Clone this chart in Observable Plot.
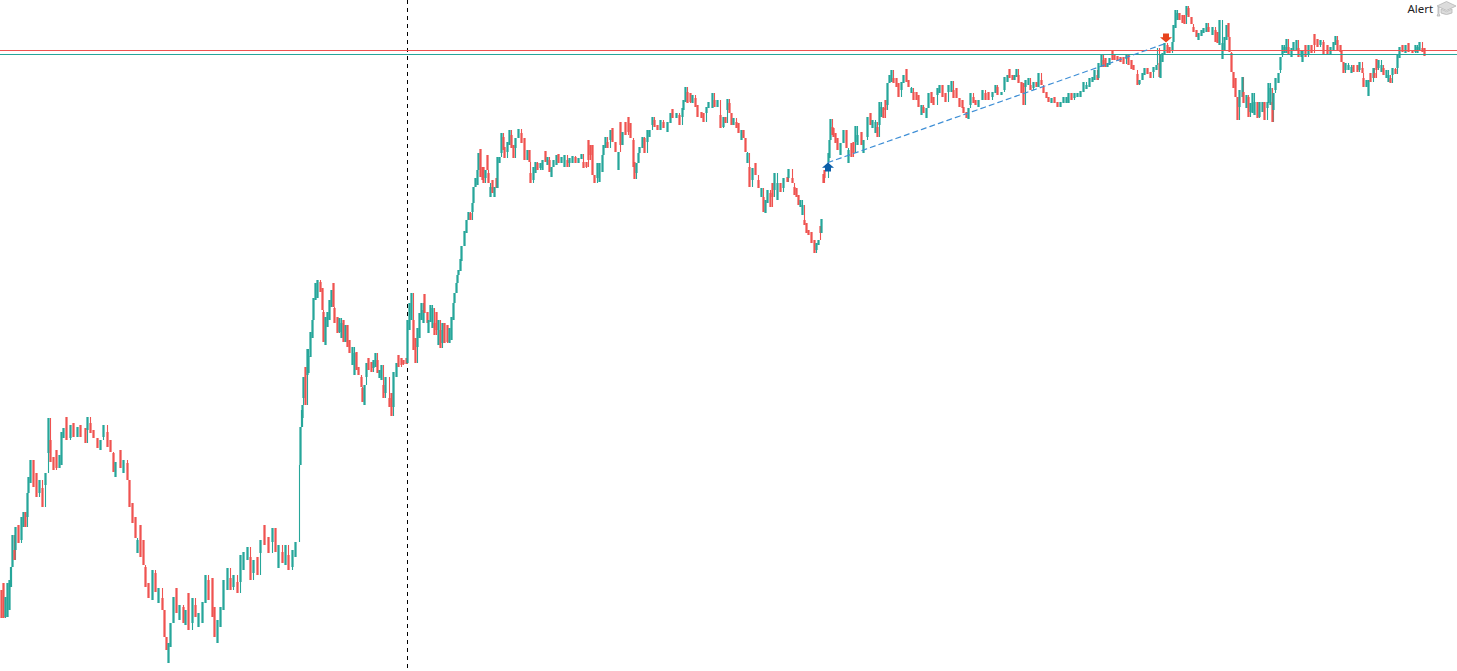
<!DOCTYPE html>
<html><head><meta charset="utf-8">
<script src="https://cdn.jsdelivr.net/npm/d3@7"></script>
<script src="https://cdn.jsdelivr.net/npm/@observablehq/plot@0.6"></script>
<style>html,body{margin:0;padding:0;background:#fff;overflow:hidden}svg{display:block}</style>
</head><body><div id="chart"></div>
<script>
// Each bar: [bar number, open, close]; open < close rises (teal), open > close falls (red).
const barsA = [[1,81,53],[3,88,53],[5,54,74],[7,54,88],[9,61,91],[10.5,84,104],[12,104,136],[14,121,111],[15,121,144],[18,146,128],[21,131,154],[23,144,159],[25,159,144],[27,154,178],[28,178,194],[30,188,211],[33,211,184],[36,198,174],[39,178,191],[42,183,164],[45,186,198],[48,218,253],[50,231,209],[53,214,201],[56,221,203],[59,203,216],[61,206,239],[63,233,243],[66,254,231],[70,233,246],[73,248,234],[77,234,244],[80,246,234],[85,243,228],[87,241,254],[90,248,238],[93,241,233],[97,233,223],[100,221,231],[103,234,246],[107,239,224],[110,231,219],[113,218,199],[115,194,209],[120,221,203],[123,198,211],[127,208,191],[129,191,164],[132,168,148],[135,154,133],[137,118,131],[140,146,114],[143,131,106],[145,104,84],[148,88,73],[152,71,101],[155,98,79],[158,68,83],[162,73,61],[164,61,34],[166,34,21],[168,8,28],[170,24,48],[173,48,74],[176,83,58],[179,51,66],[183,64,48],[185,46,61],[188,78,41],[192,48,73],[195,66,54],[198,44,58],[202,48,69],[205,68,96],[208,91,71],[212,93,54],[214,64,34],[217,28,51],[220,44,64],[223,61,91],[227,81,103],[230,93,81],[233,84,96],[237,89,78],[240,89,116],[243,101,119],[247,111,124],[250,114,91],[253,98,111],[257,114,96],[260,118,131],[264,146,126],[268,134,118],[272,129,143],[275,143,119],[278,103,126],[282,119,108],[285,106,126],[288,116,101],[292,104,121],[295,114,129]];
const barsB = [[299,206,206],[300,206,244],[301.5,244,261],[302,253,266],[303,273,294],[305,304,266],[307,296,322],[308,298,315],[310,314,339],[312,333,351],[313,351,373],[315,371,388],[317,373,391],[320,389,379],[322,383,361],[323,359,329],[325,326,354],[327,344,359],[329,351,371],[331,364,381],[333,388,364],[334,363,348],[337,354,338],[339,339,353],[341,333,348],[343,351,329],[345,329,346],[347,346,324],[349,331,318],[352,306,324],[354,296,318],[356,319,301],[358,304,296],[361,294,284],[362,283,269],[364,266,286],[366,294,308],[368,313,301],[371,309,299],[373,303,311],[375,304,318],[377,311,298],[379,293,301],[381,291,306],[383,286,273],[385,278,294],[389,273,264],[391,278,255],[393,264,299],[396,294,308],[398,316,304],[401,313,306],[403,311,307],[406,313,307],[407,308,351],[409,341,368],[411,351,378],[413,351,321],[415,333,308],[417,324,343],[419,333,358],[421,351,368],[423,348,361],[424,377,358],[427,359,348],[428,338,351],[430,349,366],[432,343,363],[434,348,336],[436,359,341],[438,326,351],[440,341,323],[442,328,348],[444,348,328],[447,346,329],[449,328,343],[451,331,354],[453,351,368],[454,368,378],[456,378,388],[457,388,396],[458,396,401]];
const barsC = [[460,400,412],[461,410,425],[464,425,440],[466,438,451],[468,451,459],[470,458,451],[472,459,468],[473,468,484],[475,484,493],[477,486,501],[478,501,518],[480,522,494],[482,504,491],[483,504,488],[485,493,501],[487,516,501],[488,498,488],[490,474,484],[492,491,478],[494,474,484],[496,493,483],[497,483,514],[499,508,514],[501,518,538],[503,534,521],[504,524,513],[507,519,529],[509,526,541],[511,536,523],[513,526,513],[515,523,533],[518,533,542],[521,538,528],[524,533,511],[527,511,521],[529,521,509],[530,498,488],[533,491,504],[535,498,509],[537,508,501],[540,503,508],[542,501,511],[545,520,509],[547,506,514],[549,511,499],[551,494,504],[553,504,511],[556,506,516],[558,517,508],[561,508,514],[564,504,516],[567,511,504],[569,508,513],[572,508,515],[575,514,508],[578,508,513],[581,512,517],[583,509,503],[586,509,504],[588,531,511],[590,526,516],[592,526,496],[594,496,488],[597,493,508],[599,489,508],[602,499,516],[603,516,526],[605,523,534],[607,529,523],[610,531,541],[612,543,529],[615,529,519],[618,501,519],[620,549,526],[622,526,539],[625,549,536],[628,554,539],[630,548,533],[633,531,504],[634,509,492],[636,498,508],[638,508,518],[639,518,524],[642,523,534],[644,533,518],[647,529,541],[649,534,541],[652,546,554],[654,551,544],[657,546,541],[660,541,551],[663,549,543],[667,539,549],[670,548,558],[672,562,553],[676,553,558],[679,556,546],[682,554,563],[683,561,571],[685,569,584],[687,579,568],[690,578,569],[692,568,576],[695,573,564],[697,566,554],[701,559,553],[703,558,549],[706,558,564],[708,563,569],[712,563,578],[714,571,564],[717,564,571],[720,556,543],[723,544,554],[725,554,548],[727,561,572],[729,568,558],[731,558,546],[733,546,553],[736,549,543],[738,548,538],[741,531,541],[743,541,533],[745,533,519],[747,508,518],[749,504,484],[752,491,503],[755,508,496],[758,491,483],[761,474,483],[763,474,459],[765,458,471],[767,468,481],[770,478,464],[772,488,474],[774,481,498],[777,471,488],[780,488,479],[783,483,493],[787,494,489],[788,493,502]];
const barsD = [[792,493,488],[794,484,476],[796,483,474],[798,476,466],[800,464,471],[802,456,466],[804,451,446],[806,448,438],[808,441,436],[811,439,428],[814,431,418],[816,421,428],[818,426,431],[820,445,438],[821,438,452],[823,497,488],[824,501,493],[828,509,518],[829,513,531],[830,531,552],[832,544,536],[833,543,534],[835,538,528],[837,533,521],[840,516,528],[843,528,541],[846,541,523],[848,508,521],[851,528,514],[853,529,518],[855,529,545],[857,526,536],[861,539,526],[863,518,531],[867,534,554],[870,558,546],[872,543,551],[875,538,549],[877,544,534],[879,546,569]];
const barsE = [[881,554,564],[883,563,553],[885,571,561],[887,566,588],[889,588,596],[891,589,601],[893,593,588],[896,593,584],[898,588,574],[901,581,589],[903,588,596],[906,602,589],[908,591,584],[911,578,583],[913,579,571],[916,579,571],[918,576,564],[921,556,566],[923,564,558],[926,553,563],[928,563,578],[931,579,568],[933,574,566],[937,576,583],[939,578,586],[942,586,574],[945,578,569],[948,579,586],[951,579,590],[953,581,573],[956,583,573],[959,573,564],[962,571,563],[963,564,558],[966,559,553],[968,552,563],[970,566,578],[973,574,568],[975,571,566],[978,564,571],[982,571,581],[985,578,571],[988,579,571],[992,574,579],[995,578,586],[997,584,576],[1001,576,579],[1004,581,594],[1007,589,596],[1009,602,593],[1012,596,591],[1014,591,596],[1016,594,602],[1018,596,588],[1021,589,578],[1023,588,566],[1025,584,591],[1028,586,593],[1030,586,581],[1033,583,589],[1036,589,584],[1038,584,598],[1041,591,586],[1043,584,578],[1046,579,573],[1048,574,569],[1051,568,573],[1054,574,568],[1057,569,564],[1060,564,569],[1063,568,574],[1066,568,574],[1068,568,578],[1071,578,571],[1074,573,578],[1077,574,578],[1080,574,580],[1083,579,589],[1086,582,586],[1089,584,593],[1092,589,594],[1094,591,601],[1097,596,591],[1098,593,608],[1101,604,616],[1103,611,604],[1105,613,604],[1107,604,608],[1109,606,613],[1112,620,611],[1114,617,611],[1117,615,610],[1120,614,609],[1123,614,607],[1126,612,617],[1128,617,606]];
const barsF = [[1131,611,602],[1133,606,601],[1137,597,586],[1139,587,591],[1142,591,598],[1144,596,603],[1147,603,597],[1150,599,593],[1153,599,604],[1156,601,606],[1157,623,623],[1159,608,594],[1160,593,616],[1162,609,618],[1164,616,628],[1167,626,618],[1169,624,618],[1172,621,629],[1173,629,646],[1175,643,661],[1177,651,658],[1179,658,651],[1182,656,648],[1184,656,647],[1186,656,665],[1188,663,654],[1191,654,647],[1193,644,639],[1196,641,634],[1198,631,638],[1201,635,641],[1203,638,643],[1206,639,648],[1208,644,639],[1212,636,644],[1215,641,629],[1217,639,628],[1219,626,651],[1222,612,628],[1224,621,634],[1226,631,646],[1228,648,634],[1229,634,619],[1231,618,599],[1233,599,583],[1235,593,574],[1237,574,551],[1239,564,581],[1242,574,594],[1243,579,568],[1246,563,576],[1248,574,554],[1250,559,568],[1252,558,578],[1254,556,569],[1257,569,553],[1259,554,569],[1262,559,569],[1264,569,551],[1267,563,569],[1268,568,588],[1270,566,583],[1272,569,549],[1273,561,578],[1275,581,593],[1278,588,598],[1280,601,614]];
const barsG = [[1282,616,626],[1284,618,624],[1286,618,632],[1288,624,616],[1291,614,623],[1293,621,629],[1296,621,631],[1298,623,614],[1301,614,621],[1302,609,621],[1305,626,614],[1308,616,626],[1311,626,618],[1314,637,626],[1317,632,624],[1320,626,631],[1323,629,616],[1327,626,616],[1330,616,624],[1333,621,629],[1335,626,635],[1337,631,621],[1340,626,619],[1341,621,609],[1343,609,598],[1345,601,608],[1348,601,606],[1351,598,604],[1353,606,599],[1357,606,599],[1359,601,609],[1362,603,598],[1363,593,584],[1366,584,591],[1368,575,591],[1370,598,589],[1373,593,603],[1374,598,593],[1376,612,601],[1378,603,611],[1381,599,606],[1383,603,596],[1386,593,601],[1388,589,596],[1390,593,588],[1392,596,603],[1395,602,597],[1397,603,616],[1399,613,624],[1402,626,619],[1405,618,626],[1408,628,619],[1412,621,618],[1415,619,626],[1417,618,624],[1419,621,629],[1422,623,619],[1424,623,615]];
const bidAsk = [{price:621,side:"ask"},{price:617,side:"bid"}];
const session = [407];
const trend = [{bar:827.5,price:509},{bar:1165,price:628}];
const signals = [{bar:827.5,price:504.5,kind:"buy"},{bar:1165.5,price:633.5,kind:"sell"}];
const alertLabel = [{bar:1407,price:662,text:"Alert"}];

const raw = [...barsA,...barsB,...barsC,...barsD,...barsE,...barsF,...barsG];
const bars = raw.map(([t,o,c],i)=>{
  // thin wick reaches back to the previous close, except across the price gap at bar 823
  const prev = i && t!==823 ? raw[i-1][2] : c;
  return {t,o,c,dir:c>=o?"up":"down",lo:Math.min(o,c,prev),hi:Math.max(o,c,prev)};
});
const arrowUp = {draw(c){c.moveTo(0,-4.5);c.lineTo(6,0.8);c.lineTo(3,0.8);c.lineTo(3,4.5);c.lineTo(-3,4.5);c.lineTo(-3,0.8);c.lineTo(-6,0.8);c.closePath();}};
const arrowDown = {draw(c){c.moveTo(0,4.5);c.lineTo(6,-0.8);c.lineTo(3,-0.8);c.lineTo(3,-4.5);c.lineTo(-3,-4.5);c.lineTo(-3,-0.8);c.lineTo(-6,-0.8);c.closePath();}};
const capTop = {draw(c){c.moveTo(0,-7);c.lineTo(9.5,-2.5);c.lineTo(0,2);c.lineTo(-9.5,-2.5);c.closePath();}};
const capBody = {draw(c){c.moveTo(-5.5,0.5);c.lineTo(0,3.2);c.lineTo(5.5,0.5);c.lineTo(5.5,4.5);c.quadraticCurveTo(0,7.5,-5.5,4.5);c.closePath();c.moveTo(-8.5,-1.5);c.lineTo(-7.5,-1.5);c.lineTo(-7.5,5);c.lineTo(-6.6,7.5);c.lineTo(-9.4,7.5);c.lineTo(-8.5,5);c.closePath();}};

const chart = Plot.plot({
  width:1457,height:671,margin:0,
  x:{domain:[0,1457],range:[0,1457],axis:null},
  y:{domain:[0,671],range:[671,0],axis:null},
  color:{domain:["up","down"],range:["#26a69a","#ef5350"]},
  marks:[
    Plot.ruleX(session,{x:d=>d,stroke:"#000",strokeWidth:1,strokeDasharray:"4 4"}),
    Plot.ruleX(bars,{x:"t",y1:"lo",y2:"hi",stroke:"dir",strokeWidth:1.1}),
    Plot.ruleX(bars,{x:"t",y1:"o",y2:"c",stroke:"dir",strokeWidth:2.2}),
    Plot.ruleY(bidAsk,{y:"price",stroke:d=>d.side==="ask"?"down":"up",strokeWidth:1}),
    Plot.line(trend,{x:"bar",y:"price",stroke:"#3f8fd6",strokeWidth:1.2,strokeDasharray:"5 4"}),
    Plot.dot(signals.filter(d=>d.kind==="buy"),{x:"bar",y:"price",symbol:()=>arrowUp,fill:"#0b5ea8",stroke:"none"}),
    Plot.dot(signals.filter(d=>d.kind==="sell"),{x:"bar",y:"price",symbol:()=>arrowDown,fill:"#e8431c",stroke:"none"}),
    Plot.text(alertLabel,{x:"bar",y:"price",text:"text",textAnchor:"start",fill:"#222",fontSize:11.5,fontFamily:"Noto Sans"}),
    Plot.dot([{bar:1446,price:663}],{x:"bar",y:"price",symbol:()=>capTop,fill:"#dcdcdc",stroke:"#b5b5b5",strokeWidth:0.8}),
    Plot.dot([{bar:1446,price:663}],{x:"bar",y:"price",symbol:()=>capBody,fill:"#dcdcdc",stroke:"#b5b5b5",strokeWidth:0.8})
  ]
});
document.getElementById("chart").append(chart);
</script></body></html>
